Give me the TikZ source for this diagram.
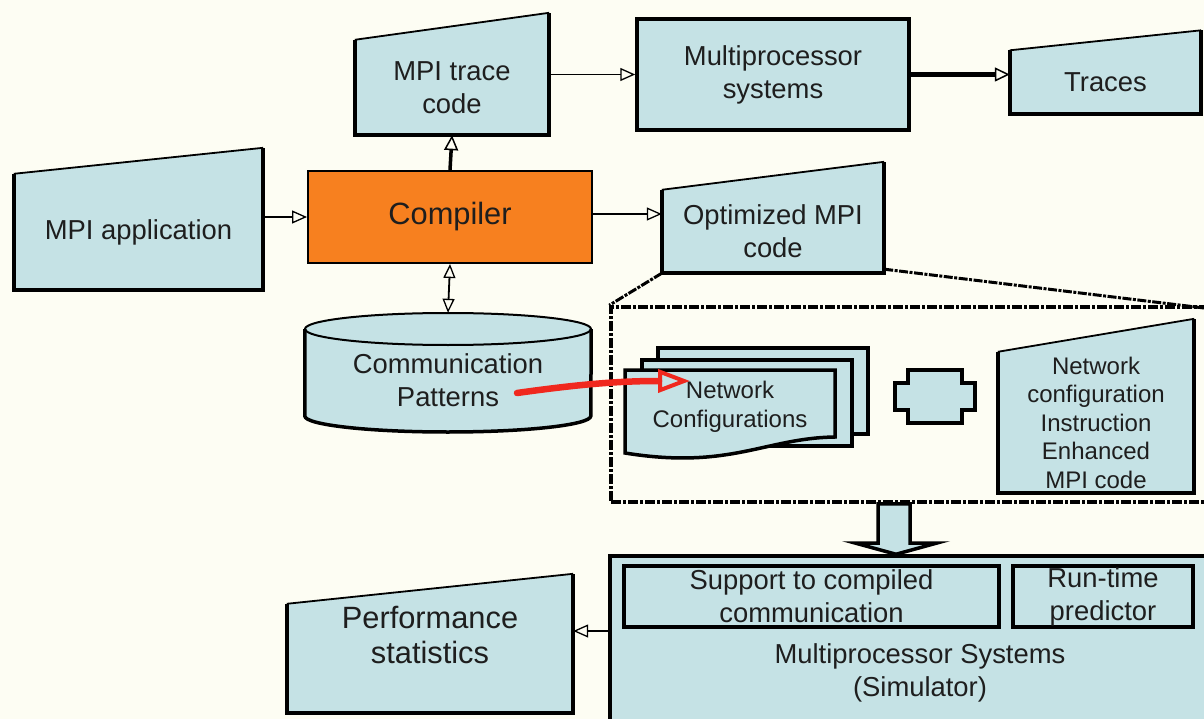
\documentclass[tikz,border=0pt]{standalone}
\usepackage{fontspec}
\setmainfont{Liberation Sans}
\usetikzlibrary{arrows.meta,calc}
\definecolor{paper}{HTML}{FDFDF3}
\definecolor{lb}{HTML}{C5E2E5}
\definecolor{orng}{HTML}{F7801F}
\definecolor{ink}{HTML}{1E1E1E}
\definecolor{redpen}{HTML}{F0281E}
\pgfdeclarelayer{paperlayer}
\pgfdeclarelayer{shapes}
\pgfsetlayers{paperlayer,shapes,main}
% manual-input shape: vertical sides, top edge rising to the right
\newcommand\slantbox[2]{%
  \fill[lb] (#1.south west) -- (#1.north west) -- ([yshift=#2]#1.north east) -- (#1.south east) -- cycle;
  \draw[line width=4pt,line join=miter] (#1.north west) -- (#1.south west) -- (#1.south east) -- ([yshift=#2]#1.north east);
  \draw[line width=1.8pt] (#1.north west) -- ([yshift=#2]#1.north east);
}
\begin{document}
\begin{tikzpicture}[x=1pt,y=-1pt,
  txt/.style={text=ink,align=center,font=\fontsize{27.4}{33}\selectfont},
  bigtxt/.style={text=ink,align=center,font=\fontsize{30.8}{35}\selectfont},
  smalltxt/.style={text=ink,align=center,font=\fontsize{24}{28.5}\selectfont},
  body/.style={inner sep=0pt,minimum width=#1},
  plainbox/.style={draw=black,fill=lb,line width=3.5pt,inner sep=0pt},
  arr/.style={line width=1.6pt,-{Triangle[open,length=15pt,width=13pt,line width=1.3pt]}},
  heavyarr/.style={line width=4.5pt,-{Triangle[open,length=15pt,width=14pt,line width=1.5pt]}},
  dblarr/.style={line width=1.8pt,{Triangle[open,length=14pt,width=12pt,line width=1.3pt]}-{Triangle[open,length=14pt,width=12pt,line width=1.3pt]}},
  zoomline/.style={line width=3pt,dash pattern=on 9pt off 1.5pt on 3pt off 1.5pt},
]
\useasboundingbox (0,0) rectangle (1204,719);
\begin{pgfonlayer}{paperlayer}
  \fill[paper] (0,0) rectangle (1204,719);
\end{pgfonlayer}

% ---- top row ----
\node[body=194pt,minimum height=95pt,txt] (trace) at (452,87.5) {MPI trace\\code};
\node[plainbox,minimum width=272pt,minimum height=111pt,txt] (mp) at (773,74.5) {Multiprocessor\\systems};
\node[body=191pt,minimum height=63pt,txt] (traces) at (1105.5,82) {Traces};

% ---- middle row ----
\node[body=249pt,minimum height=116pt,txt] (app) at (138.5,232) {MPI application};
\node[draw=black,fill=orng,line width=2pt,inner sep=0pt,minimum width=284pt,minimum height=92pt,bigtxt] (comp) at (450,217) {Compiler};
\node[body=222pt,minimum height=83pt,txt] (opt) at (773,231.5) {Optimized MPI\\code};

% ---- database ----
\node[body=286pt,minimum height=119pt] (cyl) at (448,372.5) {};
\node[txt] (cyltxt) at (448,380) {Communication\\Patterns};

% ---- expanded view of the optimized code ----
\node[draw=black,line width=3.5pt,dash pattern=on 10pt off 2pt on 3pt off 2pt,inner sep=0pt,minimum width=601pt,minimum height=195pt] (zbox) at (911.5,404.5) {};
\node[smalltxt] (netcfg) at (730,407) {Network\\Configurations};
\node[inner sep=0pt,minimum width=80pt,minimum height=53pt] (mid) at (935,396.5) {};
\node[body=196pt,minimum height=141pt,smalltxt] (nci) at (1096,422.5) {Network\\configuration\\Instruction\\Enhanced\\MPI code};

% ---- simulator ----
\node[plainbox,minimum width=596pt,minimum height=166pt] (sim) at (908,639) {};
\node[draw=black,line width=3.5pt,inner sep=0pt,minimum width=375pt,minimum height=61pt,txt] (sup) at (811.5,596.5) {Support to compiled\\communication};
\node[draw=black,line width=3.5pt,inner sep=0pt,minimum width=180pt,minimum height=61pt,txt] (rtp) at (1103,596.5) {Run-time\\predictor};
\node[txt] (simtxt) at (920,673) {Multiprocessor Systems\\(Simulator)};

\node[body=286pt,minimum height=109pt] (perf) at (430,658.5) {};
\node[bigtxt] (perftxt) at (430,635) {Performance\\statistics};

% ---- shapes drawn underneath the labels ----
\begin{pgfonlayer}{shapes}
  \slantbox{trace}{27pt}
  \slantbox{traces}{20pt}
  \slantbox{app}{26pt}
  \slantbox{opt}{28pt}
  \slantbox{nci}{33pt}
  \slantbox{perf}{30pt}
  % cylinder
  \fill[lb] (cyl.west |- 0,329) -- (cyl.west |- 0,416)
     arc[start angle=180,end angle=360,x radius=143pt,y radius=16pt]
     -- (cyl.east |- 0,329)
     arc[start angle=0,end angle=180,x radius=143pt,y radius=16pt] -- cycle;
  \draw[line width=3.5pt] (cyl.west |- 0,329) -- (cyl.west |- 0,416)
     arc[start angle=180,end angle=360,x radius=143pt,y radius=16pt]
     -- (cyl.east |- 0,329);
  \draw[line width=2pt] (448,329) ellipse[x radius=143pt,y radius=16pt];
  % stacked documents
  \draw[fill=lb,line width=3.5pt] (658,348) rectangle (868,434);
  \draw[fill=lb,line width=3.5pt] (642,360) rectangle (852,446);
  \draw[fill=lb,line width=3.5pt] (625,370) -- (835,370) -- (835,437)
     .. controls (765,438) and (730,470) .. (625,453) -- cycle;
  % connector shape between the two parts
  \draw[fill=lb,line width=3.5pt] (908,370) -- (962,370) -- (962,383) -- (975,383)
     -- (975,410) -- (962,410) -- (962,423) -- (908,423) -- (908,410)
     -- (895,410) -- (895,383) -- (908,383) -- cycle;
\end{pgfonlayer}

% ---- connectors ----
\draw[arr] (app.east |- comp.west) -- (comp.west);
\draw[heavyarr,line width=3.5pt] (comp.north) -- (trace.south);
\draw[arr,line width=1.4pt] (trace.east |- mp.west) -- (mp.west);
\draw[heavyarr] (mp.east) -- (mp.east -| traces.west);
\draw[arr] ([yshift=3pt]comp.east) -- ([yshift=3pt]comp.east -| opt.west);
\draw[dblarr] (comp.south) -- (cyl.north);

% zoom-out lines
\coordinate (zr) at (1204,308);
\draw[zoomline] (opt.south west) -- (zbox.north west);
\draw[zoomline] ([yshift=4pt]opt.south east) -- (zr);

% hand-drawn red arrow
\coordinate (rs) at (517,393);
\coordinate (re) at (690,381);
\draw[redpen,line width=6.5pt,line cap=round,-{Triangle[open,length=32pt,width=23pt,line width=4pt]}]
  (rs) to[out=8,in=180] (re);

% block arrow into the simulator
\draw[fill=lb,line width=3.5pt,line join=miter]
  ([xshift=-16pt]zbox.south -| 894,0) -- ([xshift=16pt]zbox.south -| 894,0)
  -- (910,543) -- (937,543) -- (sim.north -| 896,0) -- (855,543) -- (878,543) -- cycle;

\draw[arr,line width=1.4pt] ([yshift=8pt]sim.west) -- ([yshift=8pt]sim.west -| perf.east);
\end{tikzpicture}
\end{document}
